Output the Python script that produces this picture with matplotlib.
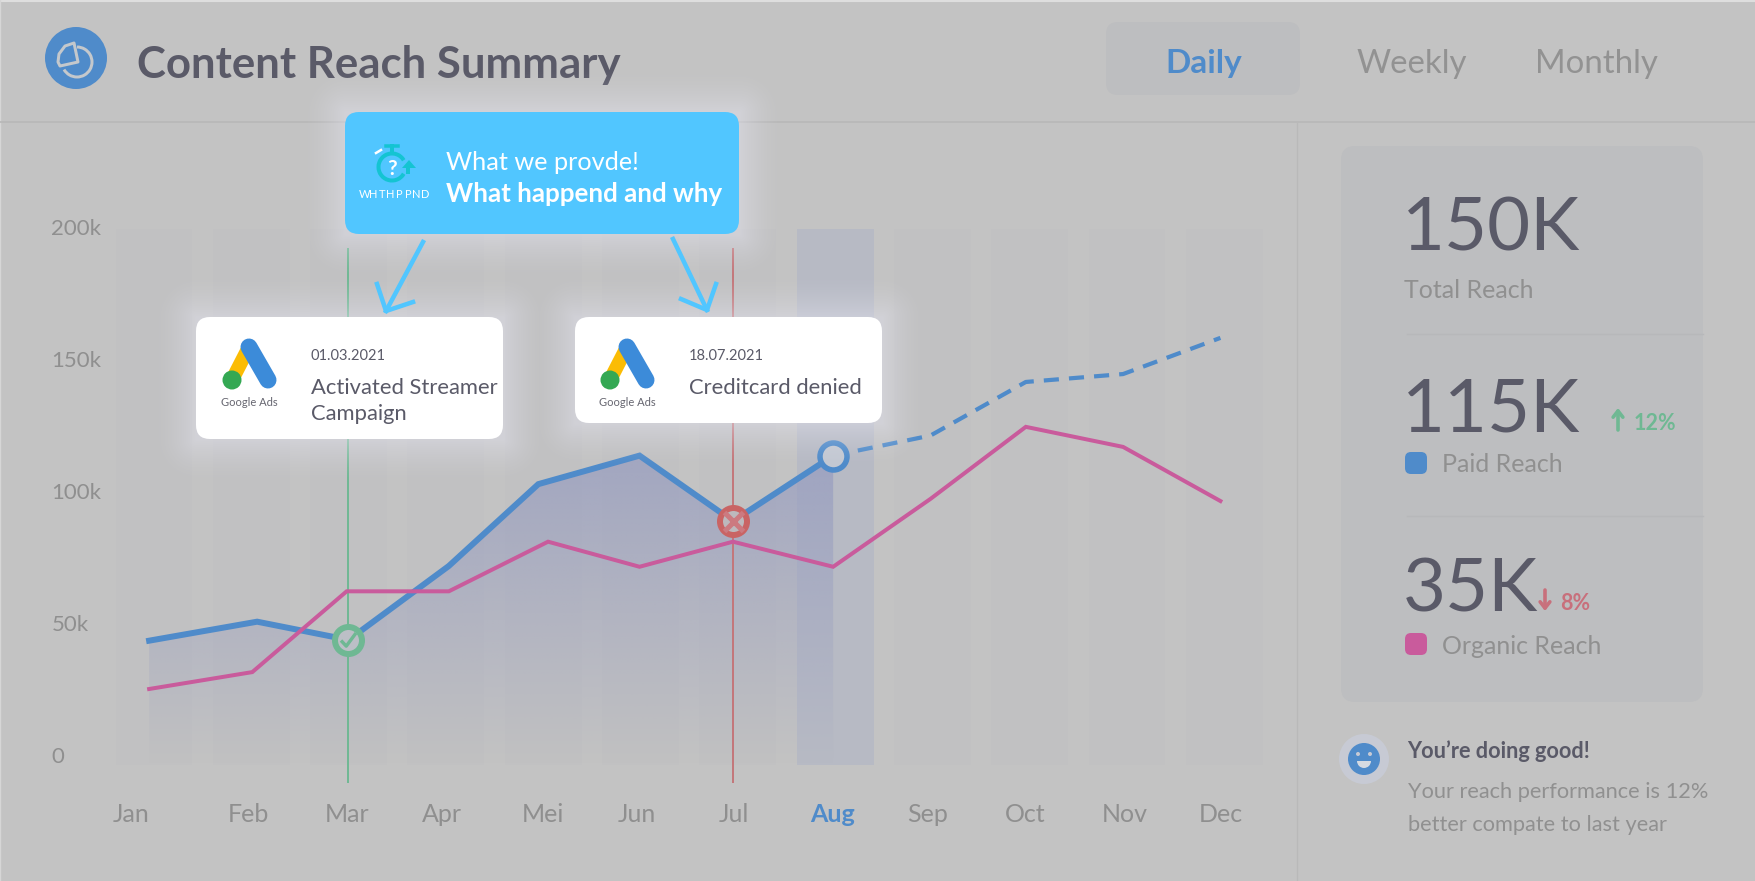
import numpy as np
import matplotlib
matplotlib.use("Agg")
import matplotlib.pyplot as plt
from matplotlib.patches import FancyBboxPatch, Circle, Polygon, Arc, Wedge
from matplotlib.path import Path

plt.rcParams['font.family'] = ['Lato', 'DejaVu Sans']

months = ["Jan", "Feb", "Mar", "Apr", "Mei", "Jun", "Jul", "Aug", "Sep", "Oct", "Nov", "Dec"]
month_label_pos = [-0.24, 0.966, 1.98, 2.96, 4.0, 4.96, 5.96, 6.97, 7.95, 8.95, 9.98, 10.96]
y_ticks = [0, 50000, 100000, 150000, 200000]
y_labels = ["0", "50k", "100k", "150k", "200k"]

paid_x = [-0.05, 1.06, 2.0, 3.03, 3.95, 4.99, 5.95, 6.98]
paid = [43300, 50500, 43600, 71600, 102600, 113400, 88600, 113400]
forecast_x = [6.98, 7.98, 8.96, 9.96, 10.96]
forecast = [113400, 121000, 141300, 144300, 158000]
organic_x = [-0.05, 1.01, 1.98, 3.03, 4.05, 4.99, 5.95, 6.98, 7.98, 8.96, 9.96, 10.96]
organic = [25000, 31400, 62000, 62000, 80800, 71300, 80800, 71300, 97000, 124300, 116700, 96200]

track_top = 199200
track_bottom = -3800
event_x = [1.99, 5.95]
event_top = 192000
event_bottom = -10600

W, H = 1756, 881
BG = "#c3c3c3"
PANEL = "#bdbec0"
DARK = "#5a5a68"
GREY = "#909090"
BLUE = "#4f8bca"
PINK = "#c95b9c"
GREEN = "#6fb893"
RED = "#c96464"
SOFT_RED = "#c8707c"
SKY = "#51c6ff"


def rbox(a, x0, y0, x1, y1, r, **kw):
    p = FancyBboxPatch((x0 + r, y0 + r), x1 - x0 - 2 * r, y1 - y0 - 2 * r,
                       boxstyle=f"round,pad={r},rounding_size={r}", linewidth=0, **kw)
    a.add_patch(p)
    return p


def px(v):
    # pixels to points
    return v * 0.72


fig = plt.figure(figsize=(W / 100, H / 100), dpi=100, facecolor=BG)

ui = fig.add_axes([0, 0, 1, 1], zorder=0)
ui.set_xlim(0, W)
ui.set_ylim(H, 0)
ui.axis("off")

# header
ui.plot([0, W], [0.5, 0.5], color="#dedede", lw=1.5)
ui.plot([0.5, 0.5], [0, H], color="#d6d6d6", lw=1)
ui.plot([0, W], [122, 122], color="#b9b9b9", lw=1.3)
ui.plot([1297, 1297], [122, H], color="#b9b9b9", lw=0.9)
ui.add_patch(Circle((76, 58), 31, color=BLUE, lw=0))
ui.add_patch(Polygon([(60, 66), (78, 62), (74, 43), (65, 46), (59, 54), (58, 62)], closed=True, fill=False,
                     ec="#c4c8cc", lw=px(3), joinstyle="round"))
ui.add_patch(Arc((77, 62), 30, 30, theta1=-90, theta2=150, ec="#c4c8cc", lw=px(3)))
ui.text(137, 65, "Content Reach Summary", fontsize=31.5, fontweight="bold", color=DARK, va="center")
rbox(ui, 1106, 22, 1300, 95, 12, fc=PANEL)
ui.text(1204, 64, "Daily", fontsize=24, fontweight="bold", color=BLUE, va="center", ha="center")
ui.text(1412, 64, "Weekly", fontsize=23.8, color="#929292", va="center", ha="center")
ui.text(1596, 64, "Monthly", fontsize=23.8, color="#929292", va="center", ha="center")

# side panel
rbox(ui, 1341, 146, 1703, 702, 14, fc=PANEL)
ui.plot([1407, 1703], [334, 334], color="#b7b8ba", lw=1)
ui.plot([1407, 1703], [516, 516], color="#b7b8ba", lw=1)
ui.text(1402, 230, "150K", fontsize=53.5, color=DARK, va="center")
ui.text(1404, 291, "Total Reach", fontsize=18, color=GREY, va="center")
ui.text(1402, 411, "115K", fontsize=53.5, color=DARK, va="center")
ui.annotate("", xy=(1618, 408), xytext=(1618, 430),
            arrowprops=dict(arrowstyle="->,head_width=0.35,head_length=0.45", color=GREEN, lw=2.6, shrinkA=0, shrinkB=0))
ui.text(1634, 423, "12%", fontsize=15.5, fontweight="bold", color=GREEN, va="center")
rbox(ui, 1405, 452, 1427, 474, 6, fc=BLUE)
ui.text(1442, 465, "Paid Reach", fontsize=18, color=GREY, va="center")
ui.text(1403, 591, "35K", fontsize=53.5, color=DARK, va="center")
ui.annotate("", xy=(1545, 611), xytext=(1545, 590),
            arrowprops=dict(arrowstyle="->,head_width=0.35,head_length=0.45", color=SOFT_RED, lw=2.6, shrinkA=0, shrinkB=0))
ui.text(1560, 604, "8%", fontsize=15.5, fontweight="bold", color=SOFT_RED, va="center")
rbox(ui, 1405, 633, 1427, 655, 6, fc=PINK)
ui.text(1442, 647, "Organic Reach", fontsize=18, color=GREY, va="center")

# smiley
ui.add_patch(Circle((1364, 759), 25, color="#c7cad4", lw=0))
ui.add_patch(Circle((1364, 759), 16, color=BLUE, lw=0))
ui.add_patch(Circle((1358, 754), 2, color="#c7cad4", lw=0))
ui.add_patch(Circle((1370, 754), 2, color="#c7cad4", lw=0))
ui.add_patch(Wedge((1364, 761), 7, 0, 180, color="#d5dae2", lw=0))
ui.text(1407, 751, "You\u2019re doing good!", fontsize=15.7, fontweight="bold", color=DARK, va="center")
ui.text(1408, 792, "Your reach performance is 12%", fontsize=15.7, color=GREY, va="center")
ui.text(1408, 825, "better compate to last year", fontsize=15.7, color=GREY, va="center")

# chart
left, right, top_px, bottom_px = 100, 1300, 220, 790
ax = fig.add_axes([left / W, 1 - bottom_px / H, (right - left) / W, (bottom_px - top_px) / H], zorder=1)
ax.patch.set_visible(False)
for s in ax.spines.values():
    s.set_visible(False)

track_colors = ["#c1c1c2"] * 12
track_colors[7] = "#b7bac4"
ax.bar(range(12), [track_top - track_bottom] * 12, bottom=track_bottom, width=0.79, color=track_colors, zorder=1)

# gradient under the paid line
poly = ax.fill_between(paid_x, paid, track_bottom, color="none", lw=0)
grad = np.zeros((256, 2, 4))
grad[:, :, :3] = matplotlib.colors.to_rgb("#969cc0")
grad[:, :, 3] = np.linspace(0.72, 0.0, 256)[:, None]
im = ax.imshow(grad, extent=(paid_x[0], paid_x[-1], track_bottom, max(paid)), origin="upper",
               aspect="auto", zorder=2, interpolation="bilinear")
im.set_clip_path(poly.get_paths()[0], transform=ax.transData)
ax.set_xlim((left - 154) / 97.3, (right - 154) / 97.3)
ax.set_ylim((755 - bottom_px) / 2.64 * 1000, (755 - top_px) / 2.64 * 1000)

ax.vlines(event_x[0], event_bottom, event_top, color=GREEN, lw=1.4, zorder=3)
ax.vlines(event_x[1], event_bottom, event_top, color="#c4767a", lw=1.4, zorder=3)
ax.plot(paid_x, paid, color=BLUE, lw=px(6), zorder=4, solid_joinstyle="miter")
ax.plot(forecast_x, forecast, color=BLUE, lw=px(4.2), ls=(0, (3.6, 2.4)), zorder=4)
ax.plot(organic_x, organic, color=PINK, lw=px(4), zorder=5, solid_joinstyle="miter")

ax.plot(event_x[0], paid[2], "o", ms=px(27), mfc="#bcbfc6", mec=GREEN, mew=px(6), zorder=6)
check = Path([(-1, 0), (-0.3, -0.75), (1, 1)], [Path.MOVETO, Path.LINETO, Path.LINETO])
ax.plot(event_x[0], paid[2], marker=check, ms=px(15), mfc="none", mec=GREEN, mew=px(3.4), zorder=7)
ax.plot(event_x[1], paid[6], "o", ms=px(27), mfc="#bdb9bd", mec=RED, mew=px(6), zorder=6)
ax.plot(event_x[1], paid[6], "x", ms=px(19), mec="#cc7a80", mew=px(5), zorder=7)
ax.plot(paid_x[7], paid[7], "o", ms=px(27), mfc="#c3c8d2", mec=BLUE, mew=px(5.5), zorder=6)

ax.set_xticks(month_label_pos, months)
ax.set_yticks(y_ticks, y_labels)
ax.tick_params(length=0, labelsize=18, labelcolor="#8f8f8f")
ax.tick_params(axis="x", pad=9)
ax.tick_params(axis="y", labelsize=16, pad=35)
for lab in ax.get_yticklabels():
    lab.set_ha("left")
aug = ax.get_xticklabels()[7]
aug.set_color(BLUE)
aug.set_fontweight("bold")

# overlay with the cards
ov = fig.add_axes([0, 0, 1, 1], zorder=2)
ov.patch.set_visible(False)
ov.set_xlim(0, W)
ov.set_ylim(H, 0)
ov.axis("off")

cards = [(345, 112, 739, 234), (196, 317, 503, 439), (575, 317, 882, 423)]

# soft glow behind the cards, from the distance to each card
yy, xx = np.mgrid[0:H, 0:W]
dist = np.full((H, W), 1e6)
for x0, y0, x1, y1 in cards:
    dx = np.maximum(np.maximum(x0 - xx, xx - x1), 0)
    dy = np.maximum(np.maximum(y0 - yy, yy - y1), 0)
    dist = np.minimum(dist, np.hypot(dx, dy))
glow = np.zeros((H, W, 4))
glow[:, :, :3] = matplotlib.colors.to_rgb("#e4e4f0")
glow[:, :, 3] = 0.45 * np.clip(1 - dist / 44, 0, 1) ** 1.6
ov.imshow(glow, extent=(0, W, H, 0), aspect="auto", interpolation="bilinear", zorder=0)
ov.set_xlim(0, W)
ov.set_ylim(H, 0)

rbox(ov, *cards[0], 14, fc=SKY, zorder=1)
rbox(ov, *cards[1], 14, fc="white", zorder=1)
rbox(ov, *cards[2], 14, fc="white", zorder=1)

# what-happened box
TEAL = "#14c4d2"
ov.add_patch(Arc((392, 167), 27, 27, theta1=30, theta2=330, ec=TEAL, lw=px(4), zorder=2))
ov.plot([392, 392], [146, 153], color=TEAL, lw=px(4))
ov.plot([386, 398], [146, 146], color=TEAL, lw=px(3.5))
ov.plot([376, 381], [153, 150], color="white", lw=px(2.5))
ov.plot([408, 408], [167, 172], color=TEAL, lw=px(4))
ov.add_patch(Polygon([(402, 168), (416, 168), (409, 160)], closed=True, color=TEAL, lw=0, zorder=2))
ov.text(392, 169, "?", fontsize=15, fontweight="bold", color="white", ha="center", va="center")
for i, ch in enumerate("WHTHPPND"):
    ov.text(364.5 + i * 8.7, 194, ch, fontsize=8, color="white", ha="center", va="center")
ov.text(446, 163, "What we provde!", fontsize=18.2, color="white", va="center")
ov.text(446, 194, "What happend and why", fontsize=18.6, fontweight="bold", color="white", va="center")

# arrows
for shaft, arm1, arm2 in [
    ((423, 242), (377, 284), (413, 302)),
    ((673, 239), (716, 284), (681, 299)),
]:
    tip = (386, 311) if shaft[0] < 500 else (707, 310)
    ov.plot([shaft[0], tip[0]], [shaft[1], tip[1]], color=SKY, lw=px(4.5))
    ov.plot([arm1[0], tip[0], arm2[0]], [arm1[1], tip[1], arm2[1]], color=SKY, lw=px(4.5))


def google_logo(dx):
    ov.plot([249 + dx, 232 + dx], [347, 380], color="#fbbc04", lw=px(14), solid_capstyle="butt")
    ov.plot([249 + dx, 268 + dx], [347, 380], color="#3c8bd9", lw=px(17), solid_capstyle="round")
    ov.add_patch(Circle((232 + dx, 380), 9.5, color="#34a853", lw=0, zorder=3))
    ov.text(249 + dx, 402, "Google Ads", fontsize=8, color="#666670", ha="center", va="center")


google_logo(0)
google_logo(378)
ov.text(311, 356, "01.03.2021", fontsize=10.5, color=DARK, va="center")
ov.text(311, 388, "Activated Streamer", fontsize=15.8, color=DARK, va="center")
ov.text(311, 414, "Campaign", fontsize=15.8, color=DARK, va="center")
ov.text(689, 356, "18.07.2021", fontsize=10.5, color=DARK, va="center")
ov.text(689, 388, "Creditcard denied", fontsize=15.8, color=DARK, va="center")

fig.savefig("out.png", dpi=100, facecolor=BG)
